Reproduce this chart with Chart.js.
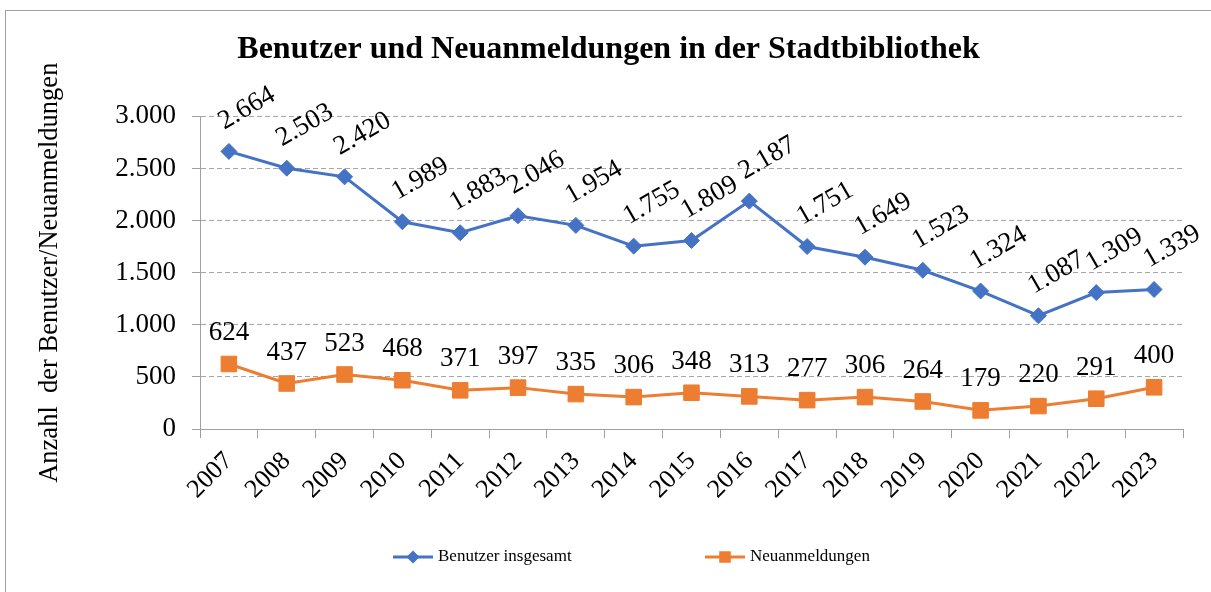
<!DOCTYPE html>
<html lang="de">
<head>
<meta charset="utf-8">
<title>Benutzer und Neuanmeldungen</title>
<script src="https://cdn.jsdelivr.net/npm/chart.js@4.4.1/dist/chart.umd.min.js"></script>
<style>
    html, body { margin: 0; padding: 0; background: #fff; }
    #wrap { position: relative; width: 1211px; height: 592px; overflow: hidden; }
    #frame {
        position: absolute; left: 5px; top: 10px; width: 1230px; height: 620px;
        border: 1px solid #a0a0a0; pointer-events: none;
    }
</style>
</head>
<body>
<div id="wrap">
    <canvas id="chart" width="1211" height="592"></canvas>
    <div id="frame"></div>
</div>
<script>
const years = ['2007', '2008', '2009', '2010', '2011', '2012', '2013', '2014', '2015',
    '2016', '2017', '2018', '2019', '2020', '2021', '2022', '2023'];
const benutzer = [2664, 2503, 2420, 1989, 1883, 2046, 1954, 1755, 1809, 2187, 1751, 1649, 1523, 1324, 1087, 1309, 1339];
const neuanmeldungen = [624, 437, 523, 468, 371, 397, 335, 306, 348, 313, 277, 306, 264, 179, 220, 291, 400];
const yTicks = [0, 500, 1000, 1500, 2000, 2500, 3000];

const serif = '"Liberation Serif", "Times New Roman", serif';
const blue = '#4472C4';
const orange = '#ED7D31';

// German thousands separator
const fmt = (v) => String(v).replace(/\B(?=(\d{3})+(?!\d))/g, '.');

// data labels drawn next to each point
const valueLabels = {
    id: 'valueLabels',
    afterDatasetsDraw(chart) {
        const ctx = chart.ctx;
        ctx.save();
        ctx.fillStyle = '#000';
        ctx.font = '27px ' + serif;
        ctx.textAlign = 'center';
        ctx.textBaseline = 'middle';
        chart.data.datasets.forEach((ds, i) => {
            const meta = chart.getDatasetMeta(i);
            meta.data.forEach((pt, j) => {
                const txt = fmt(ds.data[j]);
                if (i === 0) {
                    ctx.save();
                    ctx.translate(pt.x + 18, pt.y - 43);
                    ctx.rotate(-30 * Math.PI / 180);
                    ctx.fillText(txt, 0, 0);
                    ctx.restore();
                } else {
                    ctx.fillText(txt, pt.x, pt.y - 31);
                }
            });
        });
        ctx.restore();
    }
};

// legend in the Excel style: line with marker, spread apart
const lineLegend = {
    id: 'lineLegend',
    afterDraw(chart) {
        const ctx = chart.ctx;
        const y = 557;
        const items = [
            { ds: chart.data.datasets[0], x: 393 },
            { ds: chart.data.datasets[1], x: 705 }
        ];
        ctx.save();
        ctx.font = '17px ' + serif;
        ctx.textBaseline = 'middle';
        ctx.textAlign = 'left';
        items.forEach(it => {
            ctx.strokeStyle = it.ds.borderColor;
            ctx.lineWidth = 3;
            ctx.beginPath();
            ctx.moveTo(it.x, y);
            ctx.lineTo(it.x + 40, y);
            ctx.stroke();
            Chart.helpers.drawPoint(ctx, {
                pointStyle: it.ds.pointStyle,
                radius: it.ds.pointRadius * 0.55,
                borderWidth: 1
            }, it.x + 20, y);
            ctx.fillStyle = it.ds.borderColor;
            ctx.fill();
            ctx.fillStyle = '#000';
            ctx.fillText(it.ds.label, it.x + 45, y);
        });
        ctx.restore();
    }
};

new Chart(document.getElementById('chart'), {
    type: 'line',
    data: {
        labels: years,
        datasets: [{
            label: 'Benutzer insgesamt',
            data: benutzer,
            borderColor: blue,
            backgroundColor: blue,
            borderWidth: 3,
            pointStyle: 'rectRot',
            pointRadius: 8,
            pointBorderWidth: 1,
            tension: 0
        }, {
            label: 'Neuanmeldungen',
            data: neuanmeldungen,
            borderColor: orange,
            backgroundColor: orange,
            borderWidth: 3,
            pointStyle: 'rect',
            pointRadius: 11,
            pointBorderWidth: 1,
            tension: 0
        }]
    },
    options: {
        responsive: false,
        animation: false,
        layout: { padding: { top: 0, right: 28, bottom: 0, left: 34 } },
        plugins: {
            legend: { display: false },
            tooltip: { enabled: false },
            title: {
                display: true,
                text: 'Benutzer und Neuanmeldungen in der Stadtbibliothek',
                color: '#000',
                font: { family: serif, size: 32, weight: 'bold' },
                padding: { top: 31, bottom: 47 }
            }
        },
        scales: {
            x: {
                offset: true,
                afterFit: (scale) => { scale.height = 163; },
                grid: {
                    offset: true,
                    drawOnChartArea: false,
                    drawTicks: true,
                    tickLength: 9,
                    tickColor: '#a0a0a0'
                },
                border: { color: '#a0a0a0', width: 1 },
                ticks: {
                    color: '#000',
                    font: { family: serif, size: 26 },
                    maxRotation: 45,
                    minRotation: 45,
                    padding: 8,
                    autoSkip: false
                }
            },
            y: {
                min: 0,
                max: 3000,
                afterFit: (scale) => { scale.width = 166; },
                afterBuildTicks: (scale) => { scale.ticks = yTicks.map(v => ({ value: v })); },
                grid: {
                    color: '#a6a6a6',
                    lineWidth: 1,
                    tickLength: 8,
                    tickColor: '#a0a0a0',
                    tickBorderDash: []
                },
                border: { color: '#a0a0a0', width: 1, dash: [5, 3] },
                ticks: {
                    color: '#000',
                    font: { family: serif, size: 27 },
                    padding: 16,
                    callback: (v) => fmt(v)
                },
                title: {
                    display: true,
                    text: 'Anzahl  der Benutzer/Neuanmeldungen',
                    color: '#000',
                    font: { family: serif, size: 26.5 },
                    padding: { top: 0, bottom: 0 }
                }
            }
        }
    },
    plugins: [valueLabels, lineLegend]
});
</script>
</body>
</html>
